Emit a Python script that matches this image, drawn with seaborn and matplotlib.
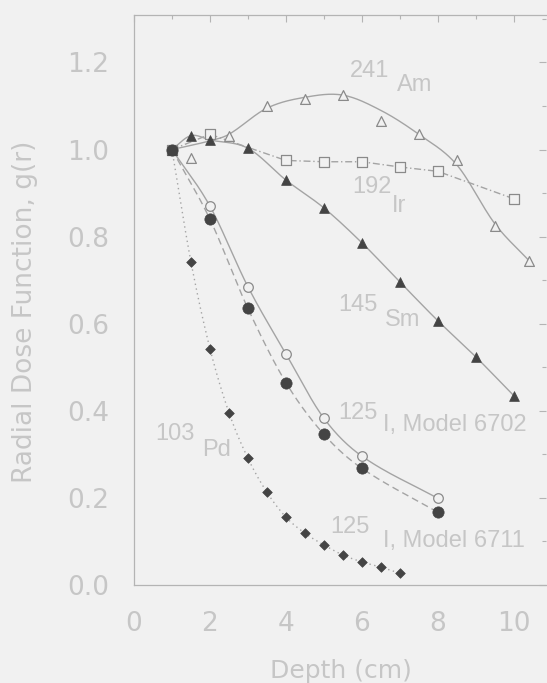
import numpy as np
import pandas as pd
import matplotlib
matplotlib.use("Agg")
import matplotlib.pyplot as plt
from matplotlib.ticker import MultipleLocator
import seaborn as sns

# ---------------- data ----------------
am_x = [1.0, 1.5, 2.5, 3.5, 4.5, 5.5, 6.5, 7.5, 8.5, 9.5, 10.4]
am_y = [1.00, 0.98, 1.03, 1.10, 1.115, 1.125, 1.065, 1.035, 0.975, 0.825, 0.745]
# the drawn 241Am curve (read along the line itself)
am_line_x = [1.0, 2.0, 2.5, 3.5, 4.5, 5.5, 6.5, 7.5, 8.5, 9.5, 10.4]
am_line_y = [1.00, 1.02, 1.035, 1.095, 1.12, 1.125, 1.09, 1.035, 0.965, 0.83, 0.745]

ir_x = [1.0, 2.0, 4.0, 5.0, 6.0, 7.0, 8.0, 10.0]
ir_y = [1.00, 1.035, 0.975, 0.972, 0.972, 0.960, 0.950, 0.887]

sm_x = [1.0, 1.5, 2.0, 3.0, 4.0, 5.0, 6.0, 7.0, 8.0, 9.0, 10.0]
sm_y = [1.00, 1.032, 1.022, 1.003, 0.930, 0.866, 0.786, 0.696, 0.607, 0.524, 0.435]

i02_x = [1.0, 2.0, 3.0, 4.0, 5.0, 6.0, 8.0]
i02_y = [1.00, 0.870, 0.685, 0.531, 0.383, 0.296, 0.199]

i11_x = [1.0, 2.0, 3.0, 4.0, 5.0, 6.0, 8.0]
i11_y = [1.00, 0.840, 0.635, 0.465, 0.346, 0.268, 0.167]

pd_x = [1.0, 1.5, 2.0, 2.5, 3.0, 3.5, 4.0, 4.5, 5.0, 5.5, 6.0, 6.5, 7.0]
pd_y = [1.00, 0.742, 0.543, 0.396, 0.291, 0.213, 0.156, 0.119, 0.092, 0.069, 0.053, 0.041, 0.027]

x_ticks = [0, 2, 4, 6, 8, 10]
y_ticks = [0.0, 0.2, 0.4, 0.6, 0.8, 1.0, 1.2]

# curve labels: mass number, nuclide text and their positions
lab_num = ["241", "192", "145", "125", "103", "125"]
lab_name = ["Am", "Ir", "Sm", "I, Model 6702", "Pd", "I, Model 6711"]
num_pos = [(5.68, 1.181), (5.74, 0.913), (5.37, 0.643), (5.37, 0.396), (0.55, 0.346), (5.16, 0.133)]
name_pos = [(6.92, 1.149), (6.80, 0.870), (6.60, 0.609), (6.55, 0.368), (1.79, 0.309), (6.55, 0.101)]

# ---------------- style ----------------
sns.set_theme(style="white")
plt.rcParams['font.family'] = ['DejaVu Sans']

BG = "#f1f1f1"
TXT = "#c6c6c6"
LINE = "#a4a4a4"
MK = "#444444"
OPEN = "#8a8a8a"

fig = plt.figure(figsize=(5.47, 6.83), dpi=100, facecolor=BG)
ax = fig.add_axes([134/547, (683-585)/683, (546-134)/547, (585-15)/683])
ax.set_facecolor(BG)


def smooth(x, y, n=24):
    """Cubic Hermite curve in x through the given points (drawing only)."""
    x = np.asarray(x, float)
    y = np.asarray(y, float)
    m = np.empty_like(y)
    m[1:-1] = (y[2:] - y[:-2]) / (x[2:] - x[:-2])
    m[0] = (y[1] - y[0]) / (x[1] - x[0])
    m[-1] = (y[-1] - y[-2]) / (x[-1] - x[-2])
    xs, ys = [], []
    for i in range(len(x) - 1):
        h = x[i+1] - x[i]
        t = np.linspace(0, 1, n, endpoint=False)
        h00 = 2*t**3 - 3*t**2 + 1
        h10 = t**3 - 2*t**2 + t
        h01 = -2*t**3 + 3*t**2
        h11 = t**3 - t**2
        xs.append(x[i] + t*h)
        ys.append(h00*y[i] + h10*h*m[i] + h01*y[i+1] + h11*h*m[i+1])
    xs.append([x[-1]])
    ys.append([y[-1]])
    return pd.DataFrame({"x": np.concatenate(xs), "y": np.concatenate(ys)})


def df(x, y):
    return pd.DataFrame({"x": x, "y": y})


# curves
kw = dict(ax=ax, color=LINE, lw=1.0, estimator=None, sort=False)
sns.lineplot(data=smooth(am_line_x, am_line_y), x="x", y="y", ls="-", **kw)
sns.lineplot(data=df(ir_x, ir_y), x="x", y="y", ls=(0, (5, 2, 1, 2)), **kw)
sns.lineplot(data=smooth(sm_x, sm_y), x="x", y="y", ls="-", **kw)
sns.lineplot(data=smooth(i02_x, i02_y), x="x", y="y", ls="-", **kw)
sns.lineplot(data=smooth(i11_x, i11_y), x="x", y="y", ls=(0, (5, 3)), **kw)
sns.lineplot(data=smooth(pd_x, pd_y), x="x", y="y", ls=(0, (1, 2.5)), **kw)

# markers
sns.scatterplot(data=df(am_x, am_y), x="x", y="y", marker="^", s=50,
                facecolor=BG, edgecolor=OPEN, linewidth=0.9, ax=ax, zorder=4)
sns.scatterplot(data=df(ir_x, ir_y), x="x", y="y", marker="s", s=42,
                facecolor=BG, edgecolor=OPEN, linewidth=0.9, ax=ax, zorder=4)
sns.scatterplot(data=df(i02_x, i02_y), x="x", y="y", marker="o", s=48,
                facecolor=BG, edgecolor=OPEN, linewidth=0.9, ax=ax, zorder=4)
sns.scatterplot(data=df(sm_x, sm_y), x="x", y="y", marker="^", s=50,
                color=MK, edgecolor=MK, linewidth=0.5, ax=ax, zorder=5)
sns.scatterplot(data=df(i11_x, i11_y), x="x", y="y", marker="o", s=66,
                color=MK, edgecolor=MK, linewidth=0.5, ax=ax, zorder=5)
sns.scatterplot(data=df(pd_x, pd_y), x="x", y="y", marker="D", s=24,
                color=MK, edgecolor=MK, linewidth=0.5, ax=ax, zorder=5)

# axes
ax.set_xlim(0, 10.85)
ax.set_ylim(0.005, 1.309)
ax.set_xticks(x_ticks)
ax.set_yticks(y_ticks)
ax.set_xticklabels([str(t) for t in x_ticks])
ax.set_yticklabels([f"{t:.1f}" for t in y_ticks])
ax.xaxis.set_minor_locator(MultipleLocator(1))
ax.yaxis.set_minor_locator(MultipleLocator(0.1))
ax.tick_params(which="both", direction="in", top=True, right=True,
               color="#b4b4b4", width=0.8)
ax.tick_params(which="major", length=5)
ax.tick_params(which="minor", length=3)
ax.tick_params(axis="x", which="major", pad=19, labelsize=19, labelcolor=TXT)
ax.tick_params(axis="y", which="major", pad=18, labelsize=19, labelcolor=TXT)

for side, sp in ax.spines.items():
    sp.set_color("#b4b4b4")
    sp.set_linewidth(0.9)
ax.spines["right"].set_visible(False)

ax.set_xlabel("")
ax.set_ylabel("")
fig.text(341/547, 1 - 671/683, "Depth (cm)", ha="center", va="center",
         fontsize=18, color=TXT)
fig.text(25/547, 1 - 312/683, "Radial Dose Function, g(r)", ha="center",
         va="center", rotation=90, fontsize=19, color=TXT)

# annotations
for num, name, (nx, ny), (mx, my) in zip(lab_num, lab_name, num_pos, name_pos):
    ax.text(nx, ny, num, fontsize=17, color=TXT, ha="left", va="center",
            family="Liberation Sans")
    ax.text(mx, my, name, fontsize=17, color=TXT, ha="left", va="center",
            family="Liberation Sans")

fig.savefig("out.png", dpi=100, facecolor=BG)
